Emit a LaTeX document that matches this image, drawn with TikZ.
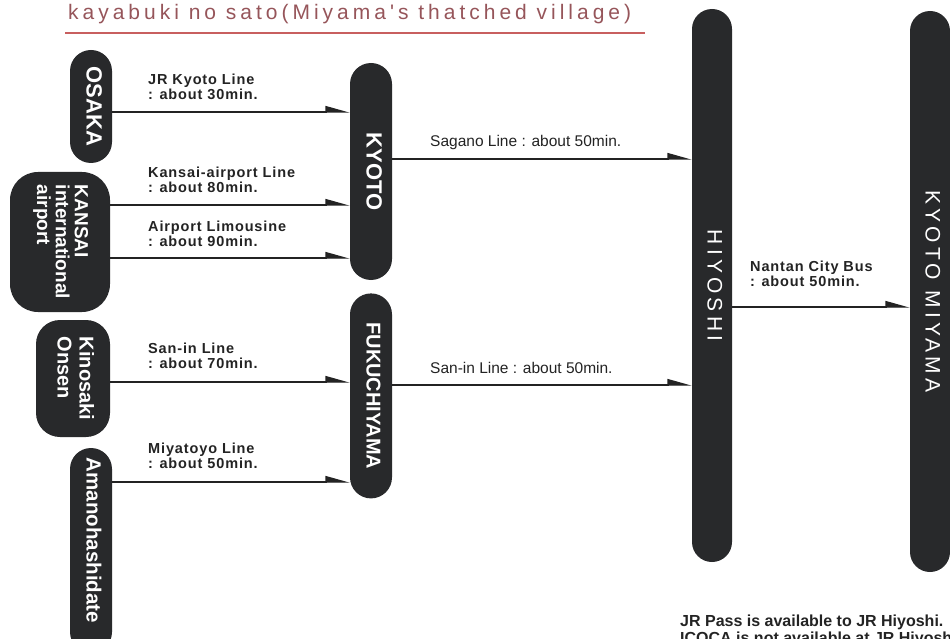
\documentclass[tikz,border=0pt]{standalone}
\usepackage{fontspec}
\setmainfont{Liberation Sans}
\newfontfamily\spacedfont[LetterSpace=20]{Liberation Sans}
\newfontfamily\titlefont[LetterSpace=19]{Liberation Sans}
\newfontfamily\labelfont[LetterSpace=6]{Liberation Sans}
\usetikzlibrary{positioning}
\usetikzlibrary{arrows.meta}

\definecolor{pillgray}{RGB}{40,41,43}
\definecolor{titlered}{RGB}{150,85,90}
\definecolor{rulered}{RGB}{200,95,95}
\definecolor{inkgray}{RGB}{35,35,35}

% text that runs top to bottom inside a station
\newcommand{\vtext}[1]{\rotatebox{-90}{\begin{tabular}{@{}l@{}}#1\end{tabular}}}

\tikzset{
  pill/.style={fill=pillgray, text=white, rectangle, rounded corners=#1, inner sep=0pt,
    font=\bfseries\fontsize{22}{22}\selectfont},
  pill/.default=21pt,
  arr/.style={-{Triangle[harpoon,length=22pt,width=12pt]}, line width=1.3pt, draw=inkgray},
  lbl/.style={font=\labelfont\bfseries\fontsize{14.5}{15}\selectfont, text=inkgray,
    align=left, inner sep=0pt, anchor=south west},
  lbltwo/.style={font=\fontsize{15.5}{16}\selectfont, text=inkgray, inner sep=0pt, anchor=base west},
  titletext/.style={font=\titlefont\fontsize{21}{21}\selectfont, text=titlered, inner sep=0pt, anchor=base west},
  titlerule/.style={draw=rulered, line width=1.2pt}
}

\begin{document}
\begin{tikzpicture}[x=1pt, y=-1pt]
 \useasboundingbox (0,0) rectangle (950,639);
 \clip (0,0) rectangle (950,639);
 % title
 \node[titletext] (title) at (68,20) {kayabuki no sato(Miyama's thatched village)};
 \draw[titlerule] (65,33) -- (645,33);
 % where the trip starts
 \node[pill, minimum width=42pt, minimum height=113pt] (osaka) at (91,106.5) {\vtext{OSAKA}};
 \node[pill=28pt, minimum width=100pt, minimum height=140pt, font=\bfseries\fontsize{19}{17}\selectfont] (kansai) at (60,242) {\vtext{KANSAI\\international\\airport}};
 \node[pill=24pt, minimum width=74pt, minimum height=117pt, font=\bfseries\fontsize{20}{22}\selectfont] (kinosaki) at (73,378.5) {\vtext{Kinosaki\\Onsen}};
 \node[pill, minimum width=42pt, minimum height=205pt, font=\bfseries\fontsize{20.5}{22}\selectfont] (amano) at (91,550.5) {\vtext{Amanohashidate\hspace*{20pt}}};
 % changes
 \node[pill, minimum width=42pt, minimum height=217pt] (kyoto) at (371,171.5) {\vtext{KYOTO}};
 \node[pill, minimum width=42pt, minimum height=205pt, below=13pt of kyoto, font=\bfseries\fontsize{20}{22}\selectfont] (fuku) {\vtext{FUKUCHIYAMA}};
 \node[pill=20pt, minimum width=40pt, minimum height=553pt, font=\spacedfont\fontsize{21}{22}\selectfont] (hiyoshi) at (712,285.5) {\vtext{HIYOSHI}};
 \node[pill=20pt, minimum width=40pt, minimum height=561pt, font=\spacedfont\fontsize{21}{22}\selectfont] (miyama) at (930,291.5) {\vtext{KYOTO MIYAMA}};
 % lines
 \draw[arr] (osaka.east |- 0,112) -- (kyoto.west |- 0,112);
 \draw[arr] (kansai.east |- 0,205) -- (kyoto.west |- 0,205);
 \draw[arr] (kansai.east |- 0,258) -- (kyoto.west |- 0,258);
 \draw[arr] (kinosaki.east |- 0,382) -- (fuku.west |- 0,382);
 \draw[arr] (amano.east |- 0,482) -- (fuku.west |- 0,482);
 \draw[arr] (kyoto.east |- 0,159) -- (hiyoshi.west |- 0,159);
 \draw[arr] (fuku.east |- 0,385) -- (hiyoshi.west |- 0,385);
 \draw[arr] (hiyoshi.east |- 0,307) -- (miyama.west |- 0,307);
 % times
 \node[lbl] (kyotoline) at (148,100) {JR Kyoto Line\\: about 30min.};
 \node[lbl] (airportline) at (148,193) {Kansai-airport Line\\: about 80min.};
 \node[lbl] (limousine) at (148,247) {Airport Limousine\\: about 90min.};
 \node[lbl] (saninline) at (148,369) {San-in Line\\: about 70min.};
 \node[lbl] (miyatoyo) at (148,469) {Miyatoyo Line\\: about 50min.};
 \node[lbltwo] (sagano) at (430,147) {Sagano Line : about 50min.};
 \node[lbltwo] (saninjr) at (430,373) {San-in Line : about 50min.};
 \node[lbl] (nantan) at (750,287) {Nantan City Bus\\: about 50min.};
 \node[lbl, font=\bfseries\fontsize{16}{17}\selectfont, anchor=north west] (pass) at (680,615) {JR Pass is available to JR Hiyoshi.\\ICOCA is not available at JR Hiyoshi.};
\end{tikzpicture}
\end{document}
